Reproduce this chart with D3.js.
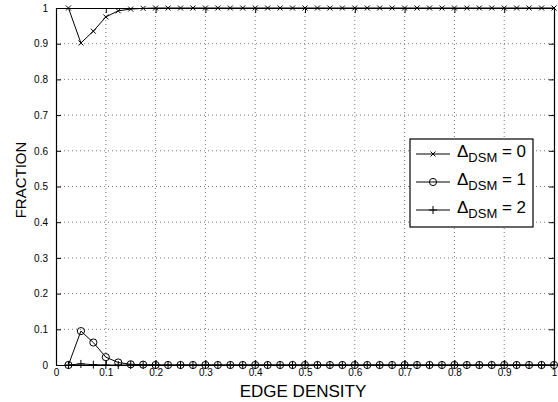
<!DOCTYPE html>
<html>
<head>
<meta charset="utf-8">
<script src="https://cdn.jsdelivr.net/npm/d3@7"></script>
<style>
body{margin:0;background:#fff;}
svg{display:block;font-family:"Liberation Sans",Arial,Helvetica,sans-serif;}
.grid line{stroke:#555;stroke-dasharray:1,3;stroke-width:0.8;}
.axis path,.axis line{stroke:#000;}
.axis text{font-size:10px;fill:#000;}
</style>
</head>
<body>
<div id="canvas"></div>
<script>
//data
var edgeDensity = [0.025,0.05,0.075,0.1,0.125,0.15,0.175,0.2,0.225,0.25,
    0.275,0.3,0.325,0.35,0.375,0.4,0.425,0.45,0.475,0.5,
    0.525,0.55,0.575,0.6,0.625,0.65,0.675,0.7,0.725,0.75,
    0.775,0.8,0.825,0.85,0.875,0.9,0.925,0.95,0.975,1.0];
var dsm0 = [1.0,0.902,0.935,0.975,0.992,0.997,0.999,1,1,1,
    1,1,1,1,1,1,1,1,1,1,
    1,1,1,1,1,1,1,1,1,1,
    1,1,1,1,1,1,1,1,1,1];
var dsm1 = [0,0.095,0.063,0.022,0.007,0.002,0.001,0,0,0,
    0,0,0,0,0,0,0,0,0,0,
    0,0,0,0,0,0,0,0,0,0,
    0,0,0,0,0,0,0,0,0,0];
var dsm2 = [0,0.003,0.001,0,0,0,0,0,0,0,
    0,0,0,0,0,0,0,0,0,0,
    0,0,0,0,0,0,0,0,0,0,
    0,0,0,0,0,0,0,0,0,0];
var xTicks = [0,0.1,0.2,0.3,0.4,0.5,0.6,0.7,0.8,0.9,1];
var yTicks = [0,0.1,0.2,0.3,0.4,0.5,0.6,0.7,0.8,0.9,1];
var seriesNames = ['0','1','2'];
var seriesMarkers = ['cross','circle','plus'];

var outerWidth = 558, outerHeight = 402;
var m = {t:8,r:4,b:37,l:56};
var w = outerWidth - m.l - m.r,
    h = outerHeight - m.t - m.b;

var svg = d3.select('#canvas')
    .append('svg')
    .attr('width',outerWidth)
    .attr('height',outerHeight);
var plot = svg.append('g')
    .attr('transform','translate(' + m.l + ',' + m.t + ')');

var scaleX = d3.scaleLinear().domain([0,1]).range([0,w]);
var scaleY = d3.scaleLinear().domain([0,1]).range([h,0]);

var fmt = function(d){return d3.format('~g')(d);};

//grid
plot.append('g').attr('class','grid')
    .selectAll('line').data(xTicks.slice(1,-1)).enter().append('line')
    .attr('x1',function(d){return scaleX(d)}).attr('x2',function(d){return scaleX(d)})
    .attr('y1',0).attr('y2',h);
plot.append('g').attr('class','grid')
    .selectAll('line').data(yTicks.slice(1,-1)).enter().append('line')
    .attr('y1',function(d){return scaleY(d)}).attr('y2',function(d){return scaleY(d)})
    .attr('x1',0).attr('x2',w);

//axes, ticks pointing inward
plot.append('g').attr('class','axis axis-x')
    .attr('transform','translate(0,'+h+')')
    .call(d3.axisBottom(scaleX).tickValues(xTicks).tickFormat(fmt).tickSizeInner(-5).tickSizeOuter(0).tickPadding(4));
plot.append('g').attr('class','axis axis-x-top')
    .call(d3.axisTop(scaleX).tickValues(xTicks).tickFormat('').tickSizeInner(-5).tickSizeOuter(0));
plot.append('g').attr('class','axis axis-y')
    .call(d3.axisLeft(scaleY).tickValues(yTicks).tickFormat(fmt).tickSizeInner(-5).tickSizeOuter(0).tickPadding(8));
plot.append('g').attr('class','axis axis-y-right')
    .attr('transform','translate('+w+',0)')
    .call(d3.axisRight(scaleY).tickValues(yTicks).tickFormat('').tickSizeInner(-5).tickSizeOuter(0));
plot.selectAll('.axis path').attr('stroke-width',1.2);

//series
var series = [dsm0,dsm1,dsm2].map(function(vals,i){
    return {name:seriesNames[i], marker:seriesMarkers[i],
        points:vals.map(function(v,j){return {x:edgeDensity[j],y:v};})};
});

var line = d3.line()
    .x(function(d){return scaleX(d.x)})
    .y(function(d){return scaleY(d.y)});

function drawMarker(g,type){
    if(type=='cross'){
        g.append('path').attr('d','M-2.5,-2.5L2.5,2.5M-2.5,2.5L2.5,-2.5');
    } else if(type=='circle'){
        g.append('circle').attr('r',3.6).attr('fill','none');
    } else {
        g.append('path').attr('d','M-4,0L4,0M0,-4L0,4');
    }
}

var seriesG = plot.selectAll('.series')
    .data(series).enter()
    .append('g').attr('class','series');
seriesG.append('path')
    .attr('d',function(d){return line(d.points)})
    .attr('fill','none').attr('stroke','#000').attr('stroke-width',1);
seriesG.each(function(s){
    d3.select(this).selectAll('.mk')
        .data(s.points).enter()
        .append('g').attr('class','mk')
        .attr('transform',function(d){return 'translate('+scaleX(d.x)+','+scaleY(d.y)+')'})
        .attr('stroke','#000').attr('stroke-width',1).attr('fill','none')
        .each(function(){drawMarker(d3.select(this),s.marker);});
});

//legend
var legend = svg.append('g').attr('transform','translate(410,139)');
legend.append('rect')
    .attr('width',123).attr('height',88)
    .attr('fill','#fff').attr('stroke','#000').attr('stroke-width',1.2);
var entries = legend.selectAll('.entry')
    .data(series).enter()
    .append('g').attr('class','entry')
    .attr('transform',function(d,i){return 'translate(0,'+(15+i*28)+')'});
entries.append('line')
    .attr('x1',6).attr('x2',40).attr('y1',0).attr('y2',0)
    .attr('stroke','#000').attr('stroke-width',1);
entries.each(function(s){
    var g = d3.select(this).append('g')
        .attr('transform','translate(23,0)')
        .attr('stroke','#000').attr('stroke-width',1).attr('fill','none');
    drawMarker(g,s.marker);
});
var lt = entries.append('text')
    .attr('x',47).attr('y',3)
    .style('font-size','17px');
lt.append('tspan').text('\u0394');
lt.append('tspan').attr('dy',5).style('font-size','13px').text('DSM');
lt.append('tspan').attr('dy',-5).text(function(d){return ' = '+d.name});

//axis titles
svg.append('text')
    .attr('x',m.l + w/2 - 2).attr('y',397)
    .attr('text-anchor','middle').style('font-size','17px')
    .text('EDGE DENSITY');
svg.append('text')
    .attr('transform','translate(26,180) rotate(-90)')
    .attr('text-anchor','middle').style('font-size','15px')
    .text('FRACTION');
</script>
</body>
</html>
